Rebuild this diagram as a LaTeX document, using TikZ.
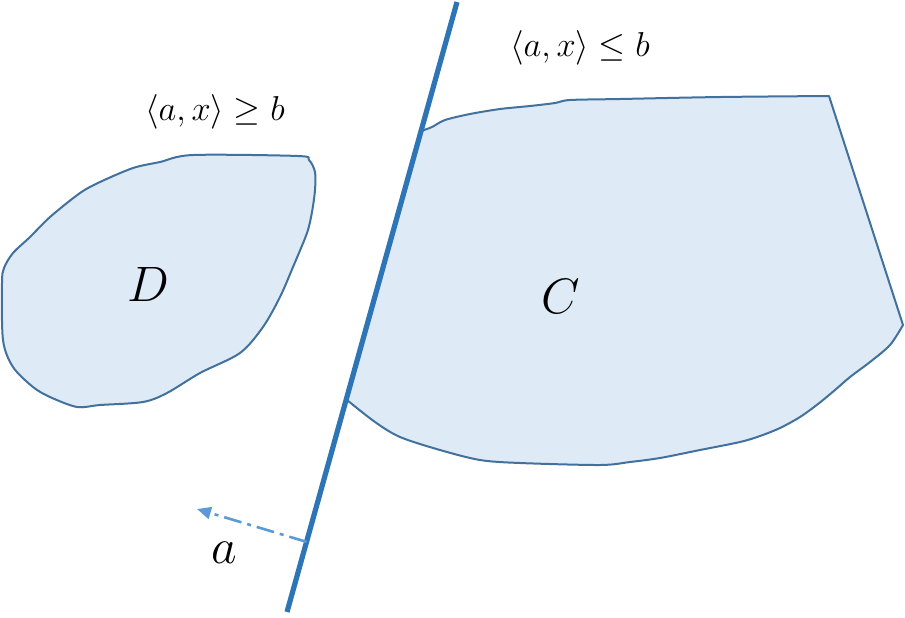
\documentclass[tikz,border=0pt]{standalone}
\usepackage{amsmath}
\usepackage{tikz}
\usetikzlibrary{positioning, calc, arrows.meta}
\definecolor{hyperblue}{RGB}{46,117,182}
\definecolor{setfill}{RGB}{222,234,246}
\definecolor{setedge}{RGB}{65,113,156}
\definecolor{normalblue}{RGB}{91,155,213}

\begin{document}
\begin{tikzpicture}[x=0.5pt, y=-0.5pt, every node/.style={inner sep=0pt},
	setshape/.style={draw=setedge, fill=setfill, line width=1pt, line join=round},
	hyperplane/.style={draw=hyperblue, line width=2.6pt},
	normalvec/.style={draw=normalblue, line width=1.3pt, dash pattern=on 9pt off 3pt on 2pt off 3pt, -{Triangle[length=7pt, width=6pt]}},
	setlabel/.style={font=\fontsize{29}{33}\selectfont},
	halflabel/.style={font=\fontsize{18.5}{22}\selectfont}]
\useasboundingbox (0,0) rectangle (905,617);

% set D
\draw[setshape] plot[smooth cycle, tension=0.5] coordinates {(193,155) (298,156) (309,160) (315,172) (315,190) (312,212) (307,233) (293,267) (280,297) (263,327) (240,353) (200,373) (167,393) (143,402) (100,405) (77,407) (50,397) (33,387) (13,367) (3,340) (2,283) (4,268) (13,253) (30,237) (50,217) (80,193) (100,182) (133,168) (160,162)};

% set C
\draw[setshape] (421,131) -- plot[smooth, tension=0.5] coordinates {(421,131) (432,127) (445,120) (470,114) (500,109) (530,106) (555,103) (570,100) (620,99) (720,97) (829,96)}
	-- (903,325)
	-- plot[smooth, tension=0.5] coordinates {(903,325) (890,345) (870,362) (850,377) (835,390) (818,404) (800,417) (780,428) (760,436) (740,442) (700,450) (660,458) (630,462) (600,465) (520,463) (480,460) (440,450) (400,437) (375,422) (347,400)}
	-- cycle;

% separating hyperplane
\coordinate (ltop) at (457,2);
\coordinate (lbot) at (287,612);
\draw[hyperplane] (ltop) -- (lbot);

% normal vector
\coordinate (afoot) at ($(ltop)!0.885!(lbot)$);
\coordinate (atip) at (197,509);
\draw[normalvec] (afoot) -- (atip);

\node[setlabel] (labD) at (148,284) {$D$};
\node[setlabel] (labC) at (561,296) {$C$};
\node[setlabel] (laba) at (224,553) {$a$};
\node[halflabel] (geq) at (215,112) {$\langle a, x\rangle \geq b$};
\node[halflabel] (leq) at (580,48) {$\langle a, x\rangle \leq b$};

\end{tikzpicture}
\end{document}
